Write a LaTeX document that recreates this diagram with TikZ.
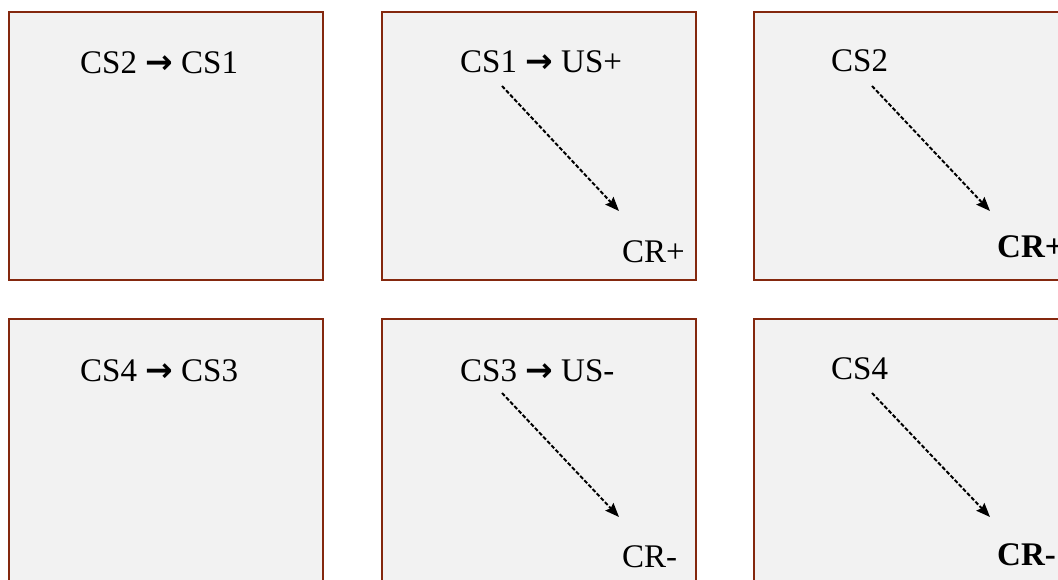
\documentclass[tikz,border=0pt]{standalone}
\usepackage{fontspec}
\setmainfont{Liberation Serif}
\newfontfamily\arrowfont{DejaVu Sans}
\usetikzlibrary{arrows.meta,positioning}
\definecolor{panelred}{RGB}{132,40,14}
\definecolor{panelgray}{RGB}{242,242,242}
\newcommand{\pairarrow}{{\arrowfont\bfseries\char"2192}}

\begin{document}
\begin{tikzpicture}[x=1pt,y=-1pt,panel/.style={
	rectangle,
	minimum width=314pt,
	minimum height=268pt,
	line width=2.6pt,
	draw=panelred,
	fill=panelgray
	},stimulus/.style={
	anchor=base west,inner sep=0pt,
	font=\fontsize{33}{40}\selectfont
	},response/.style={
	stimulus,font=\fontsize{33}{40}\selectfont\bfseries
	},link/.style={
	line width=2pt,dash pattern=on 4pt off 2pt,
	-{Stealth[length=14pt,width=11pt,inset=2pt]}
	}
]
\clip (0,0) rectangle (1058,580);

% First row
\node (box1) [panel] at (166,146) {};
\node (box2) [panel] at (539,146) {};
\node (box3) [panel] at (911,146) {};
% Second row
\node (box4) [panel] at (166,453) {};
\node (box5) [panel] at (539,453) {};
\node (box6) [panel] at (911,453) {};

\node (pair1) [stimulus] at (80,74) {CS2 \pairarrow\ CS1};
\node (pair2) [stimulus] at (460,73) {CS1 \pairarrow\ US+};
\node (cr1) [stimulus] at (622,262) {CR+};
\node (cs2) [stimulus] at (831,72) {CS2};
\node (cr2) [response] at (997,258) {CR+};

\node (pair3) [stimulus] at (80,381) {CS4 \pairarrow\ CS3};
\node (pair4) [stimulus] at (460,381) {CS3 \pairarrow\ US-};
\node (cr3) [stimulus] at (622,567) {CR-};
\node (cs4) [stimulus] at (831,379) {CS4};
\node (cr4) [response] at (997,565) {CR-};

% arrow ends
\coordinate (from1) at (502,86);  \coordinate (to1) at (619,211);
\coordinate (from2) at (872,86);  \coordinate (to2) at (990,211);
\coordinate (from3) at (502,393); \coordinate (to3) at (619,517);
\coordinate (from4) at (872,393); \coordinate (to4) at (990,517);

\path	(from1) edge[link] (to1)
	(from2) edge[link] (to2)
	(from3) edge[link] (to3)
	(from4) edge[link] (to4);

\end{tikzpicture}
\end{document}
